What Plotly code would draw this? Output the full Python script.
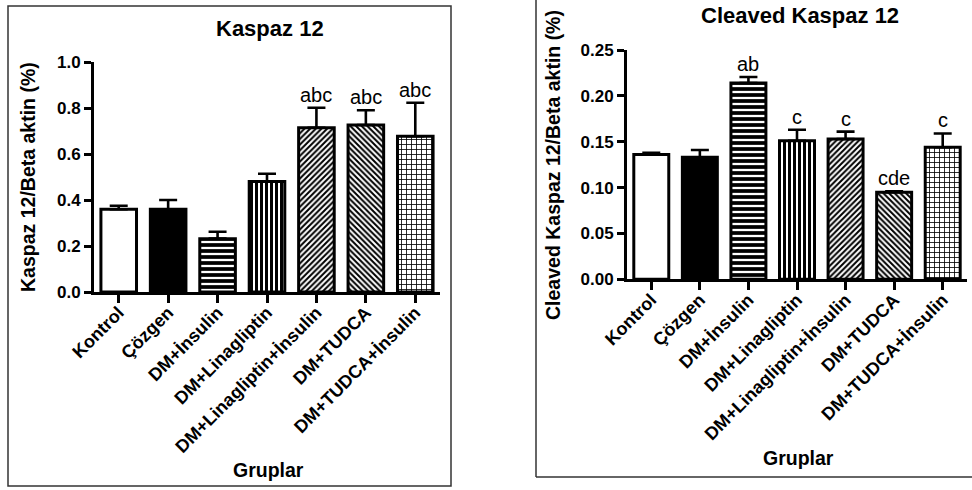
import plotly.graph_objects as go

categories = ["Kontrol", "Çözgen", "DM+İnsulin", "DM+Linagliptin",
              "DM+Linagliptin+İnsulin", "DM+TUDCA", "DM+TUDCA+İnsulin"]

left_values = [0.360, 0.360, 0.232, 0.480, 0.714, 0.726, 0.677]
left_errors = [0.015, 0.040, 0.030, 0.034, 0.087, 0.064, 0.146]
left_letters = ["", "", "", "", "abc", "abc", "abc"]

right_values = [0.136, 0.133, 0.214, 0.151, 0.153, 0.095, 0.144]
right_errors = [0.002, 0.008, 0.0065, 0.012, 0.008, 0.001, 0.015]
right_letters = ["", "", "ab", "c", "c", "cde", "c"]

left_ticks = [0.0, 0.2, 0.4, 0.6, 0.8, 1.0]
left_ticktext = ["0.0", "0.2", "0.4", "0.6", "0.8", "1.0"]
right_ticks = [0.0, 0.05, 0.10, 0.15, 0.20, 0.25]
right_ticktext = ["0.00", "0.05", "0.10", "0.15", "0.20", "0.25"]

FONT = "Liberation Sans, Arial, Helvetica, sans-serif"
W, H = 972, 490

fill_colors = ["white", "black", "white", "white", "white", "white", "white"]
shapes_p = ["", "", "-", "|", "/", "\\", "+"]
solid_p = [0.3, 0.3, 0.62, 0.6, 0.5, 0.5, 0.3]
size_p = [6, 6, 6, 5, 4, 4, 5]

fig = go.Figure()


def add_bars(values, errors, xa, ya):
    for i, cat in enumerate(categories):
        pattern = dict(shape=shapes_p[i], fgcolor="black", bgcolor=fill_colors[i],
                       solidity=solid_p[i], size=size_p[i], fillmode="replace")
        fig.add_trace(go.Bar(
            x=[cat], y=[values[i]], xaxis=xa, yaxis=ya, width=0.72,
            marker=dict(color=fill_colors[i], line=dict(color="black", width=3),
                        pattern=pattern),
            error_y=dict(type="data", array=[errors[i]], arrayminus=[0],
                         symmetric=False, color="black", thickness=2.6, width=9),
            showlegend=False, hoverinfo="skip",
        ))


add_bars(left_values, left_errors, "x", "y")
add_bars(right_values, right_errors, "x2", "y2")

axis_common = dict(showline=True, linecolor="black", linewidth=3, ticks="outside",
                   tickcolor="black", tickwidth=3, showgrid=False, zeroline=False,
                   automargin=False)
xfont = dict(family=FONT, size=18, color="black", weight="bold")
yfont = dict(family=FONT, size=17, color="black", weight="bold")

fig.update_layout(
    template="none",
    width=W, height=H, margin=dict(l=0, r=0, t=0, b=0, pad=0), autosize=False,
    paper_bgcolor="white", plot_bgcolor="white", barmode="overlay",
    xaxis=dict(domain=[94 / W, 440 / W], anchor="y", range=[-0.5, 6.5],
               categoryorder="array", categoryarray=categories,
               tickangle=-45, ticklen=8, tickfont=xfont, ticklabelstandoff=-8,
               **axis_common),
    yaxis=dict(domain=[(H - 292) / H, (H - 62) / H], anchor="x", range=[0, 1.0],
               tickvals=left_ticks, ticktext=left_ticktext, ticklen=7, tickfont=yfont,
               **axis_common),
    xaxis2=dict(domain=[627 / W, 967 / W], anchor="y2", range=[-0.5, 6.5],
                categoryorder="array", categoryarray=categories,
                tickangle=-45, ticklen=8, tickfont=xfont, ticklabelstandoff=-8,
                **axis_common),
    yaxis2=dict(domain=[(H - 279.3) / H, (H - 50) / H], anchor="x2", range=[0, 0.25],
                tickvals=right_ticks, ticktext=right_ticktext, ticklen=7, tickfont=yfont,
                **axis_common),
)

annotations = []
for cat, v, e, t in zip(categories, left_values, left_errors, left_letters):
    if t:
        annotations.append(dict(x=cat, y=v + e, xref="x", yref="y", text=t, showarrow=False,
                                yanchor="bottom", yshift=0,
                                font=dict(family=FONT, size=20, color="black")))
for cat, v, e, t in zip(categories, right_values, right_errors, right_letters):
    if t:
        annotations.append(dict(x=cat, y=v + e, xref="x2", yref="y2", text=t, showarrow=False,
                                yanchor="bottom", yshift=0,
                                font=dict(family=FONT, size=20, color="black")))


def paper_text(text, x, y, size, angle=0):
    return dict(text=text, x=x / W, y=1 - y / H, xref="paper", yref="paper", showarrow=False,
                xanchor="center", yanchor="middle", textangle=angle,
                font=dict(family=FONT, size=size, color="black", weight="bold"))


annotations += [
    paper_text("Kaspaz 12", 270, 28, 22),
    paper_text("Cleaved Kaspaz 12", 800, 16, 22),
    paper_text("Gruplar", 268, 470, 19.5),
    paper_text("Gruplar", 798, 458, 19.5),
    paper_text("Kaspaz 12/Beta aktin (%)", 28, 177, 19.5, -90),
    paper_text("Cleaved Kaspaz 12/Beta aktin (%)", 553, 165, 19.5, -90),
]
fig.update_layout(annotations=annotations)

border = dict(color="#333333", width=1.5)
fig.update_layout(shapes=[
    dict(type="rect", xref="paper", yref="paper", x0=8 / W, x1=451 / W,
         y0=1 - 486 / H, y1=1 - 6 / H, line=border),
    dict(type="line", xref="paper", yref="paper", x0=536 / W, x1=536 / W,
         y0=1 - 477 / H, y1=1.0, line=border),
    dict(type="line", xref="paper", yref="paper", x0=536 / W, x1=1.0,
         y0=1 - 477 / H, y1=1 - 477 / H, line=border),
])

fig.write_html("out.html", config={"displayModeBar": False, "staticPlot": True},
               post_script="document.body.style.margin='0';document.body.style.padding='0';")
